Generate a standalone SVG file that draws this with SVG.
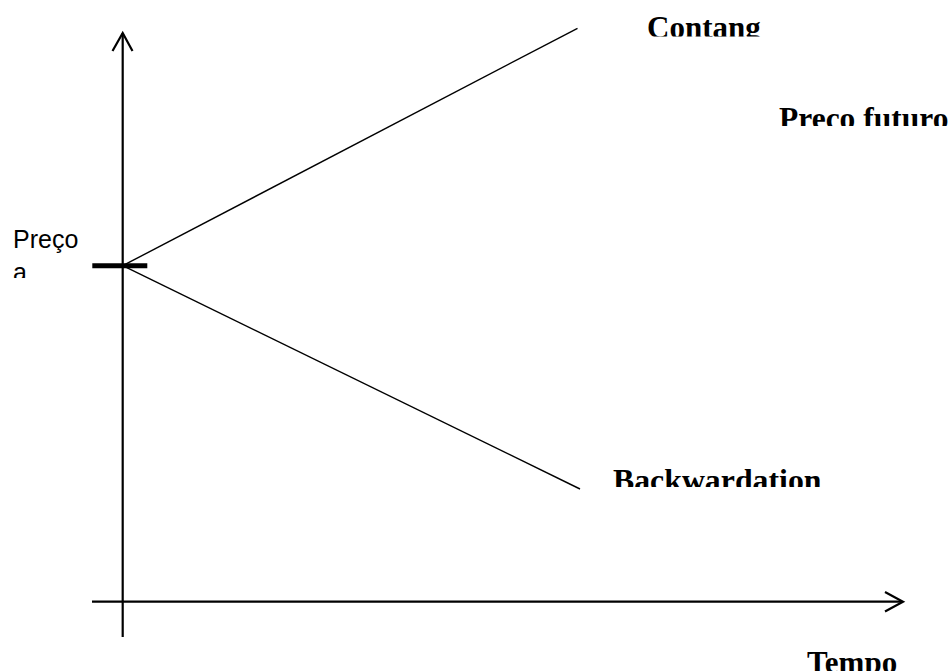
<svg xmlns="http://www.w3.org/2000/svg" width="951" height="671" viewBox="0 0 951 671">
<style>
.ax{stroke:#000;stroke-width:2.2;fill:none}
.ln{stroke:#000;stroke-width:1.4;fill:none}
.b{font-family:"Liberation Serif","Times New Roman",serif;font-weight:bold;font-size:31px;fill:#000}
.r{font-family:"Liberation Sans",Arial,sans-serif;font-size:25px;fill:#000}
</style>
<defs>
<clipPath id="c1"><rect x="600" y="0" width="200" height="36.5"/></clipPath>
<clipPath id="c2"><rect x="760" y="90" width="191" height="36"/></clipPath>
<clipPath id="c3"><rect x="600" y="455" width="250" height="32"/></clipPath>
<clipPath id="c4"><rect x="0" y="225" width="100" height="53"/></clipPath>
</defs>
<rect width="951" height="671" fill="#fff"/>
<g id="connectors">
<line class="ax" x1="122.7" y1="637" x2="122.7" y2="33"/>
<polyline class="ax" points="112.5,51 122.7,33 132.5,51"/>
<line class="ax" x1="92" y1="601.7" x2="902" y2="601.7"/>
<polyline class="ax" points="885,592 903,601.7 885,611.5"/>
<line class="ln" x1="122.7" y1="265.7" x2="577.5" y2="28.3"/>
<line class="ln" x1="122.7" y1="265.7" x2="580" y2="489"/>
<line x1="92.3" y1="265.7" x2="147.3" y2="265.7" stroke="#000" stroke-width="5"/>
</g>
<g id="contango" clip-path="url(#c1)"><text class="b" x="647" y="37.5">Contang</text></g>
<g id="preco-futuro" clip-path="url(#c2)"><text class="b" x="779" y="129" style="font-size:31.5px">Preco futuro</text></g>
<g id="backwardation" clip-path="url(#c3)"><text class="b" x="613" y="491" style="font-size:31.8px">Backwardation</text></g>
<g id="tempo"><text class="b" x="807" y="672.5">Tempo</text></g>
<g id="preco-a" clip-path="url(#c4)"><text class="r" x="13" y="247.5">Preço</text><text class="r" x="13" y="281">a</text></g>
</svg>
